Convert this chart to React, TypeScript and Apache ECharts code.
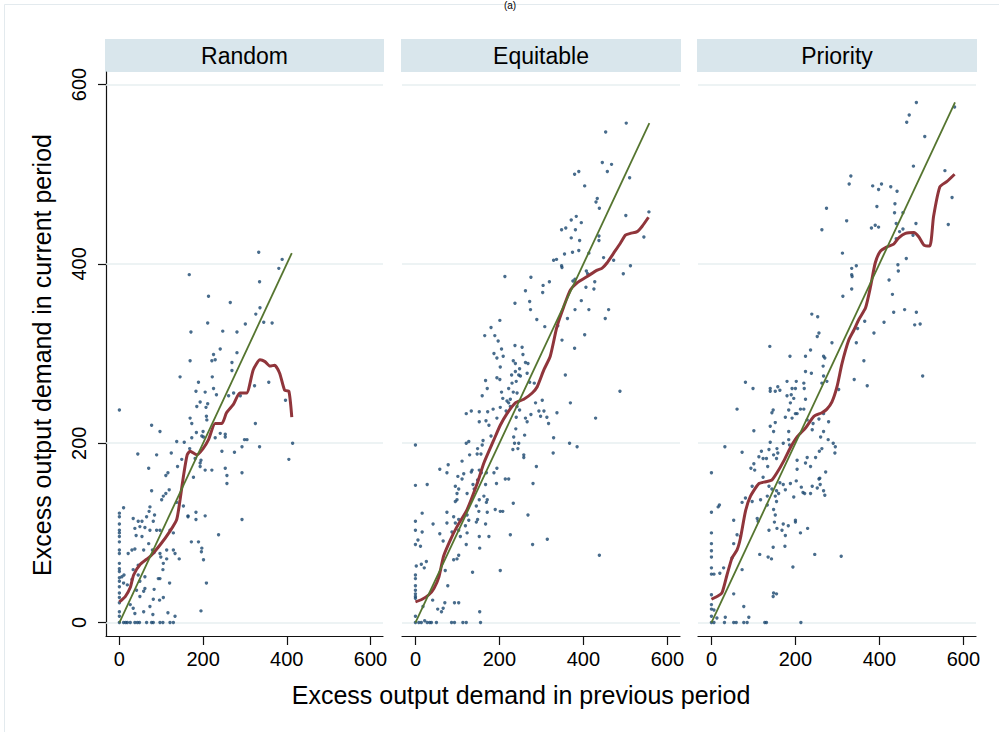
import React, { useEffect, useRef } from "react";
import * as echarts from "echarts";

const panelNames = ["Random", "Equitable", "Priority"];
const xTicks = [0, 200, 400, 600];
const yTicks = [0, 200, 400, 600];
const diagonalEnds = [412, 557, 580];
const xAxisTitle = "Excess output demand in previous period";
const yAxisTitle = "Excess output demand in current period";

const randomPts: number[][] = [
  [333,413],[389,405],[381,395],[167,388],[335,380],[213,364],[265,357],[336,351],[326,344],[211,334],[301,333],[345,335],[365,334],[171,324],[247,325],[281,324],
  [0,237],[169,292],[145,274],[189,268],[221,292],[229,293],[225,299],[241,305],[281,301],[269,290],[269,281],[183,258],[205,257],[225,261],[232,254],[222,274],[193,246],[185,241],[207,240],[211,244],[209,226],[208,230],[169,228],[173,222],[184,212],[200,213],[173,206],[155,201],[137,202],[197,208],[201,207],[229,206],[241,211],[253,210],[253,207],[261,253],[273,256],[289,253],[299,204],[305,204],[325,222],[323,264],[357,268],[397,248],[414,200],[405,182],[335,196],[293,196],[275,190],[245,191],[168,194],[181,183],[195,181],[193,174],[193,178],[205,170],[221,170],[177,162],[149,182],[139,174],[116,167],[111,164],[124,189],[89,187],[44,188],[77,220],[97,213],[70,172],[253,172],[257,164],[257,155],[293,167],[293,115],[237,98],[205,119],[183,123],[183,115],[164,118],[153,130],[137,134],[119,148],[111,144],[105,141],[101,137],[77,147],[73,129],[71,124],[84,120],[65,118],[81,113],[89,103],[97,103],[121,103],[129,100],[54,113],[45,113],[33,116],[37,105],[49,107],[61,106],[73,103],[40,97],[54,96],[70,88],[58,81],[30,81],[21,77],[37,82],[79,81],[83,78],[97,77],[113,81],[129,81],[133,77],[143,71],[113,71],[99,73],[105,66],[104,59],[93,49],[120,44],[83,37],[81,26],[73,18],[80,9],[96,25],[105,28],[116,11],[133,7],[58,12],[37,10],[33,16],[26,20],[49,29],[41,36],[58,35],[61,38],[49,46],[61,51],[30,48],[19,42],[10,44],[6,51],[11,53],[33,59],[45,64],[45,53],[208,44],[195,13],[201,70],[196,79],[197,83],[189,90],[172,90],[164,119],[10,128],[97,49],
  [0,122],[0,118],[0,110],[0,103],[0,100],[0,96],[0,90],[0,81],[0,77],[0,66],[0,60],[0,57],[0,50],[0,46],[0,40],[0,33],[0,28],[0,22],[0,12],[0,7],
  [0,0],[10,0],[15,0],[19,0],[26,0],[37,0],[43,0],[48,0],[65,0],[77,0],[81,0],[97,0],[104,0],[121,0],[129,0]
];

const equitablePts: number[][] = [
  [502,557],[453,547],[445,513],[467,511],[457,503],[379,500],[389,503],[510,496],[403,487],[433,473],[430,469],[438,462],[556,458],[501,454],[383,453],[371,449],[395,446],[381,438],[358,440],[348,438],[437,431],[371,429],[391,426],[437,426],[544,430],[355,411],[374,413],[389,415],[413,412],[329,404],[336,405],[348,398],[349,396],[448,407],[472,404],[407,392],[410,389],[495,389],[512,398],[213,386],[275,385],[375,381],[380,383],[427,380],[406,374],[425,372],[319,380],[304,376],[262,370],[303,368],[395,359],[237,356],[272,358],[274,349],[380,349],[413,349],[460,349],[452,339],[201,337],[289,338],[362,339],[180,329],[308,330],[339,331],
  [165,320],[189,320],[197,314],[205,305],[187,300],[209,297],[194,295],[237,309],[254,307],[256,299],[233,292],[238,289],[262,290],[268,289],[202,285],[248,283],[238,280],[246,276],[229,276],[250,275],[194,273],[201,271],[240,269],[230,267],[266,278],[272,268],[283,267],[167,270],[171,261],[222,261],[233,257],[242,256],[205,257],[208,250],[218,247],[226,249],[222,245],[226,241],[242,241],[159,253],[185,238],[202,240],[216,236],[152,235],[133,236],[121,233],[172,235],[152,224],[175,220],[168,225],[240,229],[248,237],[262,228],[266,224],[275,232],[294,236],[306,236],[298,230],[313,229],[317,222],[337,234],[286,245],[302,248],[369,245],[357,276],[349,315],[379,306],[403,321],[487,258],[429,228],[367,200],[385,196],[328,189],[329,206],[260,209],[239,216],[234,207],[236,200],[246,200],[244,194],[232,193],[258,187],[258,184],[288,174],[280,155],[268,120],[279,87],[314,93],[438,75],[233,133],[202,124],[208,124],[190,126],[226,98],[202,58],
  [194,228],[180,208],[161,203],[159,198],[127,202],[121,200],[148,194],[147,188],[156,188],[129,187],[111,180],[78,176],[58,171],[75,167],[101,163],[115,166],[133,168],[135,170],[152,170],[157,167],[169,167],[194,172],[187,167],[214,160],[222,160],[193,155],[167,154],[148,159],[137,154],[140,149],[163,141],[171,137],[169,134],[152,137],[145,130],[123,144],[103,149],[99,144],[95,152],[111,160],[95,135],[99,137],[151,124],[171,123],[148,115],[145,112],[167,110],[175,96],[153,83],[152,96],[127,114],[123,120],[119,108],[103,115],[91,118],[95,111],[75,111],[87,101],[103,103],[107,96],[123,100],[121,87],[103,75],[99,71],[91,70],[66,91],[75,123],[58,99],[42,110],[16,122],[16,101],[28,154],
  [0,198],[0,153],[0,113],[0,103],[0,87],[6,92],[12,85],[2,63],[14,65],[21,61],[26,68],[0,53],[0,49],[0,41],[0,36],[0,32],[0,29],[0,27],[0,7],[18,18],[41,25],[53,15],[66,16],[62,12],[70,22],[77,41],[71,58],[93,22],[103,22],[153,12],[136,56],
  [0,0],[8,0],[14,0],[22,2],[28,0],[34,0],[38,0],[50,0],[86,0],[93,0],[113,0],[121,0],[155,0]
];

const priorityPts: number[][] = [
  [488,580],[471,566],[465,558],[508,542],[579,575],[481,509],[556,504],[332,498],[328,489],[384,487],[405,489],[398,483],[427,486],[442,481],[274,462],[394,464],[437,467],[436,457],[573,474],[564,444],[456,457],[263,438],[322,448],[381,440],[390,443],[398,441],[440,445],[487,445],[448,436],[456,439],[480,432],[440,428],[312,412],[464,406],[334,395],[345,398],[334,388],[335,386],[444,399],[445,392],[313,364],[334,372],[423,382],[431,366],[434,346],[460,349],[488,346],[411,335],[484,332],[497,333],[239,344],[253,341],[365,336],[348,328],
  [256,323],[252,319],[387,323],[139,308],[187,297],[224,297],[236,304],[267,297],[270,295],[266,286],[287,312],[345,312],[363,292],[224,280],[238,278],[267,275],[275,269],[263,267],[340,271],[371,264],[303,260],[503,275],[81,268],[99,261],[140,261],[140,258],[152,258],[158,263],[163,259],[180,269],[202,269],[192,261],[200,261],[220,267],[221,261],[180,253],[190,254],[196,250],[188,245],[224,249],[200,233],[184,237],[212,238],[220,238],[147,237],[144,234],[148,213],[140,219],[152,223],[176,229],[192,228],[184,213],[204,233],[228,226],[242,222],[256,227],[267,233],[279,224],[267,213],[240,215],[260,207],[278,204],[290,200],[295,196],[294,189],[263,194],[257,191],[248,184],[236,174],[228,184],[224,178],[204,181],[184,204],[186,198],[171,200],[156,194],[158,189],[155,183],[148,187],[137,193],[140,201],[119,191],[113,185],[123,183],[131,183],[101,177],[103,170],[94,172],[134,174],[123,162],[137,152],[144,149],[155,147],[160,144],[152,141],[155,135],[148,126],[152,120],[133,141],[117,137],[97,152],[97,135],[81,139],[73,134],[109,116],[111,113],[133,131],[163,156],[171,154],[176,148],[188,155],[196,140],[204,171],[202,158],[214,151],[218,145],[222,144],[240,152],[252,150],[258,161],[259,154],[267,147],[270,142],[272,168],[236,144],[256,160],[150,112],[137,103],[156,105],[171,110],[183,108],[176,97],[168,103],[200,114],[200,112],[212,100],[229,105],
  [53,114],[61,238],[101,214],[73,190],[32,196],[16,129],[19,131],[53,88],[61,98],[69,96],[49,72],[73,59],[29,61],[20,55],[53,32],[77,18],[89,6],[115,76],[135,73],[143,71],[147,84],[175,85],[194,62],[246,76],[309,74],[147,29],[148,33],[155,32],
  [0,167],[0,123],[0,100],[0,88],[0,80],[0,73],[0,61],[0,54],[6,54],[0,31],[0,20],[0,15],[6,14],[0,7],[13,5],[33,6],
  [0,0],[6,0],[31,0],[53,0],[59,0],[77,0],[85,0],[127,0],[131,0],[213,0]
];

const randomFit: number[][] = [
  [0,23],[14,29],[26,39],[34,53],[50,65],[74,74],[98,87],[121,102],[137,115],[145,137],[153,163],[162,187],[169,191],[185,187],[200,194],[213,204],[229,222],[245,222],[256,234],[272,243],[288,256],[304,256],[320,282],[336,293],[348,291],[360,286],[371,287],[383,278],[395,259],[405,258],[412,229]
];

const equitableFit: number[][] = [
  [0,23],[16,26],[32,31],[44,38],[56,51],[67,74],[83,92],[99,107],[123,126],[147,155],[163,178],[187,204],[202,220],[218,233],[238,245],[258,249],[278,256],[290,263],[306,282],[321,297],[337,330],[353,352],[369,371],[385,379],[409,386],[433,393],[444,395],[456,401],[472,412],[488,423],[500,432],[512,434],[528,436],[540,442],[555,452]
];

const priorityFit: number[][] = [
  [0,26],[13,29],[25,33],[37,53],[49,72],[61,81],[69,94],[81,124],[93,141],[113,155],[129,157],[144,159],[156,167],[172,180],[188,195],[204,207],[224,217],[244,230],[263,234],[275,238],[287,246],[299,263],[311,289],[327,315],[339,326],[351,338],[367,351],[379,375],[390,401],[402,414],[418,419],[434,422],[446,429],[462,434],[482,435],[494,430],[506,421],[520,420],[529,453],[544,486],[561,492],[579,500]
];

const panelPoints = [randomPts, equitablePts, priorityPts];
const panelFits = [randomFit, equitableFit, priorityFit];

const FONT = "'Liberation Sans', Arial, Helvetica, sans-serif";
const NAVY = "#1a476f";
const MAROON = "#90353b";
const GREEN = "#55752f";
const GRIDC = "#e7eff1";
const STRIP = "#d9e6ec";

export default function App() {
  const ref = useRef<HTMLDivElement>(null);

  useEffect(() => {
    if (!ref.current) return;
    const chart = echarts.init(ref.current, undefined, { renderer: "svg" });

    const lefts = [106, 402, 698];
    const widths = [277, 278, 278];
    const top = 72;
    const height = 564;

    const grid = lefts.map((l, i) => ({ left: l, top, width: widths[i], height }));

    const xAxis = lefts.map((_, i) => ({
      gridIndex: i,
      type: "value",
      min: -32,
      max: 630,
      axisLine: { show: true, onZero: false, lineStyle: { color: "#111", width: 1.2 } },
      axisTick: { show: true, customValues: xTicks, length: 9, lineStyle: { color: "#111", width: 1.2 } },
      axisLabel: {
        show: true,
        customValues: xTicks,
        margin: 13,
        fontSize: 20,
        color: "#000",
        fontFamily: FONT,
      },
      splitLine: { show: false },
    }));

    const yAxis = lefts.map((_, i) => ({
      gridIndex: i,
      type: "value",
      min: -15,
      max: 614,
      axisLine: { show: i === 0, onZero: false, lineStyle: { color: "#111", width: 1.2 } },
      axisTick: { show: i === 0, customValues: yTicks, length: 8, lineStyle: { color: "#111", width: 1.2 } },
      axisLabel: {
        show: i === 0,
        customValues: yTicks,
        rotate: 90,
        margin: 17,
        fontSize: 20,
        color: "#000",
        fontFamily: FONT,
      },
      splitLine: { show: false },
    }));

    const series: any[] = [];
    lefts.forEach((_, i) => {
      series.push({
        type: "scatter",
        xAxisIndex: i,
        yAxisIndex: i,
        data: panelPoints[i],
        symbol: "circle",
        symbolSize: 3.4,
        itemStyle: { color: NAVY },
        z: 6,
        silent: true,
        markLine: {
          silent: true,
          z: 1,
          symbol: ["none", "none"],
          label: { show: false },
          lineStyle: { color: GRIDC, width: 1.6, type: "solid" },
          data: yTicks.map((v) => ({ yAxis: v })),
        },
      });
      series.push({
        type: "line",
        xAxisIndex: i,
        yAxisIndex: i,
        data: panelFits[i],
        showSymbol: false,
        smooth: 0.2,
        lineStyle: { color: MAROON, width: 3 },
        z: 7,
        silent: true,
      });
      series.push({
        type: "line",
        xAxisIndex: i,
        yAxisIndex: i,
        data: [
          [0, 0],
          [diagonalEnds[i], diagonalEnds[i]],
        ],
        showSymbol: false,
        lineStyle: { color: GREEN, width: 1.8 },
        z: 8,
        silent: true,
      });
    });

    const graphic: any[] = [
      {
        type: "rect",
        shape: { x: 4.5, y: 4.5, width: 1000, height: 800 },
        style: { fill: "none", stroke: "#e3eaee", lineWidth: 1 },
        silent: true,
        z: -1,
      },
      {
        type: "text",
        x: 510,
        y: 0,
        style: {
          text: "(a)",
          fontSize: 10,
          fontFamily: FONT,
          fill: "#000",
          textAlign: "center",
          textVerticalAlign: "top",
        },
        silent: true,
      },
      {
        type: "text",
        x: 521,
        y: 695,
        style: {
          text: xAxisTitle,
          fontSize: 25,
          fontFamily: FONT,
          fill: "#000",
          textAlign: "center",
          textVerticalAlign: "middle",
        },
        silent: true,
      },
      {
        type: "text",
        x: 42,
        y: 355,
        rotation: Math.PI / 2,
        style: {
          text: yAxisTitle,
          fontSize: 25,
          fontFamily: FONT,
          fill: "#000",
          textAlign: "center",
          textVerticalAlign: "middle",
        },
        silent: true,
      },
    ];
    lefts.forEach((l, i) => {
      graphic.push({
        type: "rect",
        shape: { x: l - 1, y: 39, width: widths[i] + 2, height: 33 },
        style: { fill: STRIP },
        silent: true,
      });
      graphic.push({
        type: "text",
        x: l + widths[i] / 2,
        y: 55.5,
        style: {
          text: panelNames[i],
          fontSize: 23,
          fontFamily: FONT,
          fill: "#000",
          textAlign: "center",
          textVerticalAlign: "middle",
        },
        silent: true,
      });
    });

    chart.setOption({
      animation: false,
      backgroundColor: "#ffffff",
      grid,
      xAxis,
      yAxis,
      series,
      graphic,
    });

    return () => {
      chart.dispose();
    };
  }, []);

  return (
    <div
      ref={ref}
      style={{ position: "fixed", left: 0, top: 0, width: 999, height: 732, background: "#fff" }}
    />
  );
}
